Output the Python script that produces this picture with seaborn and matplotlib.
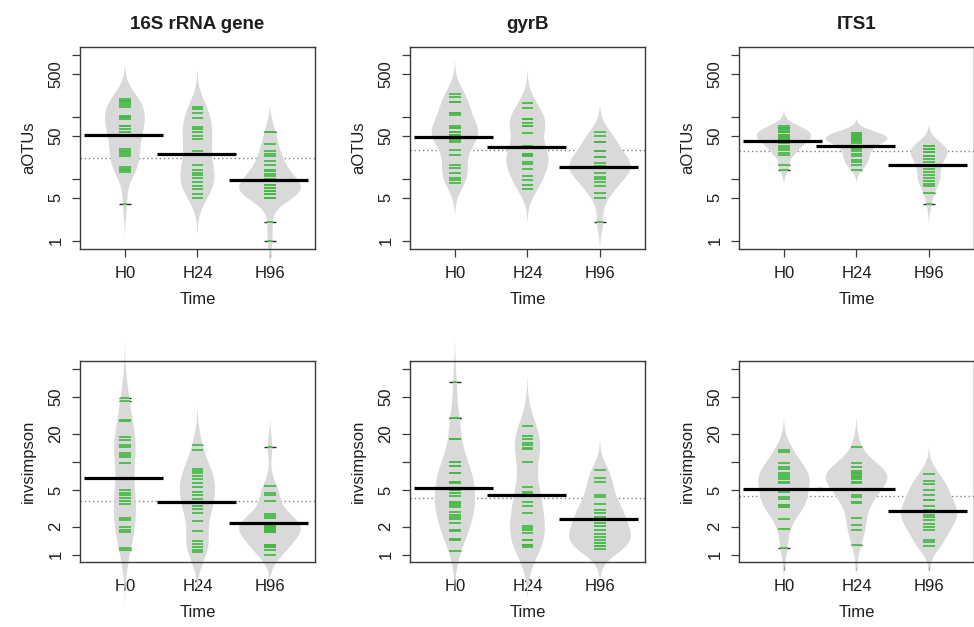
import numpy as np
import pandas as pd
import matplotlib
matplotlib.use("Agg")
import matplotlib.pyplot as plt
import matplotlib.ticker as mticker
import seaborn as sns

sns.set_style("ticks")
plt.rcParams["font.family"] = ["Liberation Sans", "DejaVu Sans"]
for key in ("text.color", "axes.labelcolor", "xtick.color", "ytick.color"):
    plt.rcParams[key] = "#1e1e1e"

times = ["H0", "H24", "H96"]
genes = ["16S rRNA gene", "gyrB", "ITS1"]

# ---- aOTUs (richness) per sampling time ----
aotus_16s_h0 = [197, 183, 170, 157, 148, 106, 100, 94, 72, 64, 57, 52, 49, 31, 28.7, 27, 25,
                23.8, 15.6, 14.5, 13.7, 12.9, 4.0, 183, 100, 72]
aotus_16s_h24 = [148, 134, 116, 96, 68, 64, 56.5, 49, 44, 28, 25.7, 17, 14.2, 12.6, 11.4, 10.4,
                 8.9, 7.7, 6.8, 5.8, 5.0, 25.7]
aotus_16s_h96 = [58.5, 56.5, 37.1, 28, 25.7, 23.2, 19.3, 16.7, 14.2, 13.3, 12.2, 11.1, 10.0, 9.2,
                 8.1, 7.2, 6.4, 5.8, 5.0, 2.0, 1.0, 8.1, 7.2, 7.2, 6.4, 6.4, 5.8, 5.8, 5.0, 5.0, 9.2]

aotus_gyrb_h0 = [241, 209, 178, 118, 108, 72, 67, 56.5, 51.8, 47.6, 43, 39, 29.7, 24.7, 16.7, 15.1,
                 12.6, 10.2, 9.5, 8.7, 178, 118, 67, 56.5, 51.8]
aotus_gyrb_h24 = [167, 139, 92.5, 81.6, 72, 55, 33.7, 25.7, 24.5, 23.2, 18.6, 17.7, 14.5, 11.1, 9.6,
                  8.1, 6.9, 92.5, 72, 25.7]
aotus_gyrb_h96 = [58.5, 48.8, 39, 28, 22.7, 18.1, 16, 15.1, 12.6, 10.8, 9.8, 8.9, 7.8, 6.0, 5.0, 2.0,
                  16, 15.1, 16, 28, 39, 22.7]

aotus_its1_h0 = [72, 66, 61, 56.5, 51.8, 47.6, 44, 40.5, 38, 34.5, 31.7, 29, 26.3, 24.4, 17.1, 14.2,
                 66, 56.5, 51.8, 47.6, 44]
aotus_its1_h24 = [55, 51.8, 48.8, 45.8, 43, 40.5, 38, 33.7, 30.5, 28, 25.7, 23.2, 20.5, 18.6, 17.1,
                  14.2, 55, 51.8, 48.8, 45.8, 43, 40.5]
aotus_its1_h96 = [33.7, 30.5, 26.9, 23.8, 21, 18.6, 16.4, 14.5, 12.9, 11.4, 10.3, 9.2, 8.4, 7.7, 6.0,
                  4.0, 33.7, 30.5, 26.9, 33.7, 30.5, 23.8]

# ---- inverse Simpson diversity per sampling time ----
invs_16s_h0 = [49.5, 45.3, 28.3, 27.4, 18.4, 17.3, 15.2, 14.6, 12.6, 12.0, 11.4, 9.7, 5.0, 4.68,
               4.39, 4.06, 3.81, 3.54, 2.48, 2.34, 1.98, 1.86, 1.74, 1.17, 1.13]
invs_16s_h24 = [15.2, 13.5, 8.4, 7.9, 7.55, 7.06, 6.56, 6.0, 5.43, 4.8, 4.42, 3.97, 3.66, 3.31, 3.1,
                2.85, 2.28, 1.78, 1.39, 1.31, 1.21, 1.11, 1.06]
invs_16s_h96 = [14.4, 5.52, 4.68, 4.39, 3.81, 2.76, 2.62, 2.48, 2.19, 2.05, 1.94, 1.83, 1.74, 1.27,
                1.21, 1.13, 1.0, 2.05, 1.94, 1.83, 1.74, 2.19, 1.27, 1.21, 1.83]

invs_gyrb_h0 = [73.1, 29.5, 17.9, 10.1, 9.06, 7.67, 6.15, 6.0, 5.0, 4.68, 4.3, 3.74, 3.6, 3.45, 3.26,
                2.92, 2.65, 2.54, 2.42, 2.19, 1.86, 1.78, 1.47, 1.43, 1.09, 29.5, 17.9, 10.1, 9.06,
                7.67, 6.15, 5.0]
invs_gyrb_h24 = [24.4, 19.1, 17.9, 16.1, 15.2, 14.3, 13.7, 10.1, 5.43, 4.8, 4.53, 4.3, 3.66, 3.31,
                 2.81, 2.05, 1.94, 1.83, 1.71, 1.45, 1.28, 1.21, 1.45, 1.28]
invs_gyrb_h96 = [8.2, 6.67, 6.15, 4.42, 4.24, 3.53, 3.05, 2.81, 2.58, 2.48, 2.19, 2.02, 1.86, 1.68,
                 1.57, 1.45, 1.33, 1.23, 1.15, 1.33, 1.23]

invs_its1_h0 = [13.5, 12.8, 9.84, 8.91, 8.34, 7.55, 7.19, 6.84, 6.52, 6.15, 5.9, 5.0, 4.8, 4.17, 3.97,
                3.45, 3.26, 2.42, 1.89, 1.17, 3.45, 3.26]
invs_its1_h24 = [14.6, 9.68, 8.91, 8.07, 7.67, 7.24, 6.95, 6.52, 6.15, 5.9, 5.0, 4.42, 4.24, 3.74, 3.6,
                 2.48, 2.1, 1.86, 1.28, 7.67, 6.95]
invs_its1_h96 = [7.43, 6.3, 5.79, 5.0, 4.42, 3.9, 3.31, 3.05, 2.92, 2.69, 2.54, 2.34, 2.15, 1.98, 1.86,
                 1.45, 1.36, 1.23, 3.9]

aotus_ticks = [1, 5, 10, 50, 100, 500, 1000]
aotus_labels = ["1", "5", "", "50", "", "500", ""]
invs_ticks = [1, 2, 5, 10, 20, 50, 100]
invs_labels = ["1", "2", "5", "", "20", "50", ""]

BEAN = "#d9d9d9"
GREEN = "#43b843"
OUTSIDE = "#2b2b2b"
FRAME = "#3a3a3a"
LINE_HALF = 0.08


def geo_mean(v):
    return 10 ** np.mean(np.log10(v))


def bean_panel(ax, groups, ylabel, ticks, labels, ylim, title=None):
    df = pd.DataFrame({
        "Time": np.repeat(times, [len(g) for g in groups]),
        "value": np.concatenate([np.asarray(g, float) for g in groups]),
    })
    n_before = len(ax.collections)
    sns.violinplot(data=df, x="Time", y="value", order=times, ax=ax, log_scale=True,
                   inner=None, color=BEAN, saturation=1, linewidth=0, cut=2.5,
                   bw_adjust=0.9, density_norm="area", width=0.85)
    beans = ax.collections[n_before:n_before + 3]
    for b in beans:
        b.set_clip_on(False)
        b.set_edgecolor("none")
        b.set_zorder(1)

    # overall (geometric) mean across all samples
    ax.axhline(geo_mean(df["value"]), color="#808080", ls=(0, (1, 2)), lw=1.0, zorder=0.5)

    for i, g in enumerate(groups):
        # bean lines: dark where they stick out of the bean, green inside it
        ax.hlines(g, i - LINE_HALF, i + LINE_HALF, color=OUTSIDE, lw=1.0, zorder=0.8,
                  clip_on=False)
        inside = ax.hlines(g, i - LINE_HALF, i + LINE_HALF, color=GREEN, lw=1.25, zorder=4)
        inside.set_clip_path(beans[i].get_paths()[0], beans[i].get_transform())
        ax.hlines(geo_mean(g), i - 0.56, i + 0.53, color="black", lw=2.3, zorder=5,
                  clip_on=False)

    ax.set_xlim(-0.62, 2.62)
    ax.set_ylim(*ylim)
    ax.set_yticks(ticks)
    ax.set_yticklabels(labels, rotation=90, va="center")
    ax.yaxis.set_minor_locator(mticker.NullLocator())
    ax.tick_params(axis="both", direction="out", length=6, width=0.9, color=FRAME,
                   labelsize=12, pad=6, left=True, bottom=True)
    ax.set_xlabel("Time", fontsize=12, labelpad=8)
    ax.set_ylabel(ylabel, fontsize=12, labelpad=9)
    for s in ax.spines.values():
        s.set_visible(True)
        s.set_color(FRAME)
        s.set_linewidth(1.0)
    if title:
        ax.set_title(title, fontsize=13.5, fontweight="bold", pad=13)


fig = plt.figure(figsize=(9.74, 6.27), dpi=100)
lefts = [0.0821, 0.4209, 0.7587]
w = 0.2413
top_row = [(aotus_16s_h0, aotus_16s_h24, aotus_16s_h96),
           (aotus_gyrb_h0, aotus_gyrb_h24, aotus_gyrb_h96),
           (aotus_its1_h0, aotus_its1_h24, aotus_its1_h96)]
bottom_row = [(invs_16s_h0, invs_16s_h24, invs_16s_h96),
              (invs_gyrb_h0, invs_gyrb_h24, invs_gyrb_h96),
              (invs_its1_h0, invs_its1_h24, invs_its1_h96)]

for j in range(3):
    ax_top = fig.add_axes([lefts[j], 0.6029, w, 0.3222])
    bean_panel(ax_top, top_row[j], "aOTUs", aotus_ticks, aotus_labels, (0.735, 1365),
               title=genes[j])
    ax_bot = fig.add_axes([lefts[j], 0.1037, w, 0.3206])
    bean_panel(ax_bot, bottom_row[j], "invsimpson", invs_ticks, invs_labels, (0.834, 123))

fig.savefig("out.png", dpi=100, facecolor="white")
